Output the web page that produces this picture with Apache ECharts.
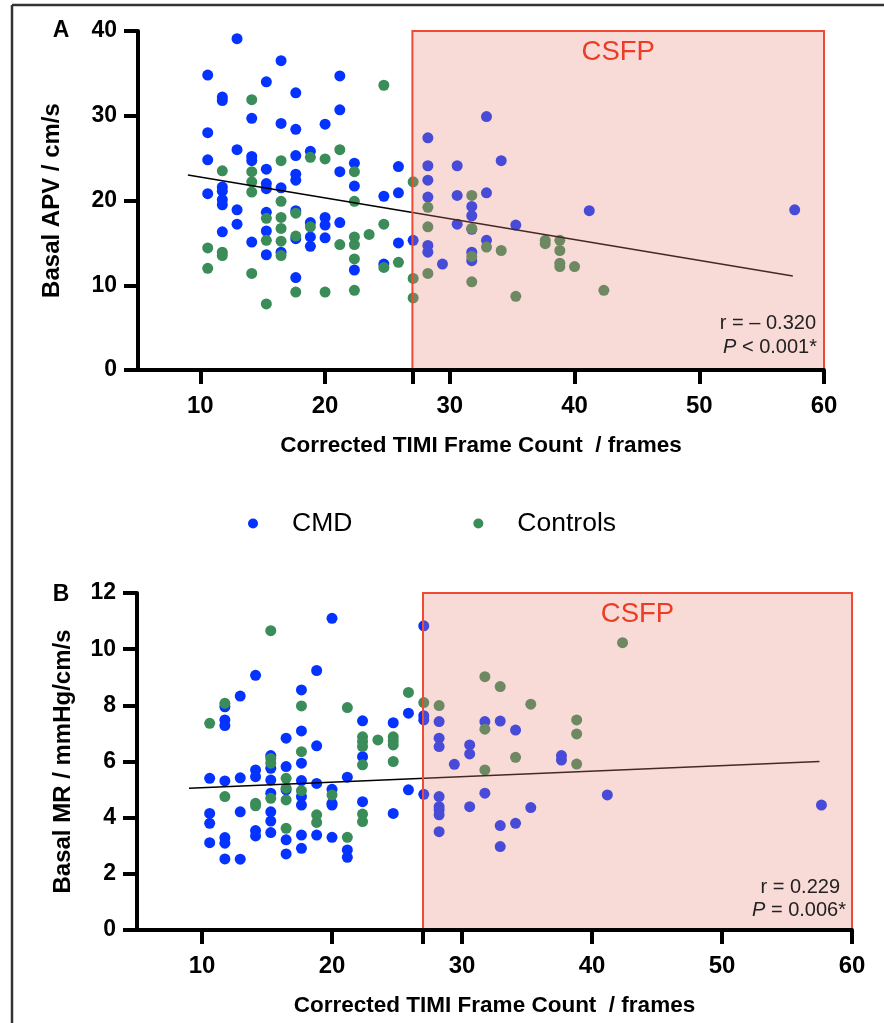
<!DOCTYPE html>
<html>
<head>
<meta charset="utf-8">
<script src="https://cdn.jsdelivr.net/npm/echarts@6/dist/echarts.min.js"></script>
<style>
  html, body { margin: 0; padding: 0; background: #fff; }
  #chart { width: 884px; height: 1023px; }
</style>
</head>
<body>
<div id="chart"></div>
<script>
// panel A: basal APV (cm/s) vs corrected TIMI frame count
var cmdA = [
  [10.59,34.8],[10.59,28.0],[10.59,24.8],[10.59,20.8],
  [11.76,32.2],[11.76,31.8],[11.76,21.6],[11.76,21.1],[11.76,20.1],[11.76,19.5],[11.76,16.3],
  [12.94,39.1],[12.94,26.0],[12.94,18.9],[12.94,17.2],
  [14.12,29.7],[14.12,25.2],[14.12,24.7],[14.12,15.1],
  [15.29,34.0],[15.29,23.7],[15.29,22.0],[15.29,21.4],[15.29,18.6],[15.29,16.4],[15.29,13.6],
  [16.47,36.5],[16.47,29.1],[16.47,21.5],[16.47,13.9],
  [17.65,32.7],[17.65,28.4],[17.65,25.3],[17.65,23.1],[17.65,22.4],[17.65,18.8],[17.65,15.5],[17.65,10.9],
  [18.82,25.8],[18.82,17.4],[18.82,15.7],[18.82,14.6],
  [20.0,29.0],[20.0,18.0],[20.0,17.1],[20.0,15.6],
  [21.18,34.7],[21.18,30.7],[21.18,23.4],[21.18,17.4],
  [22.35,24.4],[22.35,21.7],[22.35,11.8],
  [24.71,20.5],[24.71,12.5],
  [25.88,24.0],[25.88,20.9],[25.88,15.0],
  [27.06,15.3],
  [28.24,27.4],[28.24,24.1],[28.24,22.4],[28.24,20.4],[28.24,14.7],[28.24,13.9],
  [29.41,12.5],
  [30.59,24.1],[30.59,20.6],[30.59,17.2],
  [31.76,19.3],[31.76,18.2],[31.76,16.6],[31.76,13.9],[31.76,12.9],
  [32.94,29.9],[32.94,20.9],[32.94,15.3],
  [34.12,24.7],
  [35.29,17.1],
  [41.18,18.8],
  [57.65,18.9]
];
var ctrlA = [
  [10.59,14.4],[10.59,12.0],
  [11.76,23.5],[11.76,13.9],[11.76,13.5],
  [14.12,31.9],[14.12,23.4],[14.12,22.2],[14.12,21.0],[14.12,11.4],
  [15.29,17.9],[15.29,15.3],[15.29,7.8],
  [16.47,24.7],[16.47,19.9],[16.47,18.0],[16.47,16.7],[16.47,15.2],[16.47,13.5],
  [17.65,18.5],[17.65,15.8],[17.65,9.2],
  [18.82,25.1],[18.82,16.9],
  [20.0,24.9],[20.0,9.2],
  [21.18,26.0],[21.18,14.8],
  [22.35,23.4],[22.35,19.9],[22.35,15.7],[22.35,14.8],[22.35,13.1],[22.35,9.4],
  [23.53,16.0],
  [24.71,33.6],[24.71,17.2],[24.71,12.1],
  [25.88,12.7],
  [27.06,22.2],[27.06,10.8],[27.06,8.5],
  [28.24,19.2],[28.24,16.9],[28.24,11.4],
  [31.76,20.6],[31.76,16.7],[31.76,13.4],[31.76,10.4],
  [32.94,14.5],
  [34.12,14.1],
  [35.29,8.7],
  [37.65,15.3],[37.65,14.9],
  [38.82,15.3],[38.82,14.1],[38.82,12.6],[38.82,12.2],
  [40.0,12.2],
  [42.35,9.4]
];
var fitA = [[9, 23.0], [57.5, 11.1]]; // regression line ends

// panel B: basal MR (mmHg/cm/s) vs corrected TIMI frame count
var cmdB = [
  [10.59,5.40],[10.59,4.15],[10.59,3.80],[10.59,3.11],
  [11.76,7.95],[11.76,7.48],[11.76,7.28],[11.76,5.31],[11.76,3.29],[11.76,3.09],[11.76,2.53],
  [12.94,8.33],[12.94,5.42],[12.94,4.21],[12.94,2.52],
  [14.12,9.07],[14.12,5.70],[14.12,5.46],[14.12,3.54],[14.12,3.35],
  [15.29,6.21],[15.29,5.76],[15.29,5.34],[15.29,4.87],[15.29,4.21],[15.29,3.88],[15.29,3.47],
  [16.47,6.83],[16.47,5.82],[16.47,4.99],[16.47,3.21],[16.47,2.71],
  [17.65,8.55],[17.65,7.09],[17.65,5.94],[17.65,5.32],[17.65,4.75],[17.65,4.45],[17.65,3.38],[17.65,2.91],
  [18.82,9.24],[18.82,6.56],[18.82,5.22],[18.82,3.38],
  [20.0,11.10],[20.0,5.01],[20.0,4.51],[20.0,4.45],[20.0,3.30],
  [21.18,5.44],[21.18,2.85],[21.18,2.59],
  [22.35,7.45],[22.35,6.17],[22.35,4.57],
  [24.71,7.38],[24.71,4.15],
  [25.88,7.72],[25.88,4.99],
  [27.06,10.83],[27.06,7.63],[27.06,7.48],[27.06,4.83],
  [28.24,7.42],[28.24,6.83],[28.24,6.53],[28.24,4.75],[28.24,4.39],[28.24,4.27],[28.24,4.10],[28.24,3.50],
  [29.41,5.90],
  [30.59,6.59],[30.59,6.27],[30.59,4.39],
  [31.76,7.42],[31.76,4.87],
  [32.94,7.44],[32.94,3.72],[32.94,2.97],
  [34.12,7.12],[34.12,3.80],
  [35.29,4.36],
  [37.65,6.21],[37.65,6.05],
  [41.18,4.81],
  [57.65,4.45]
];
var ctrlB = [
  [10.59,7.36],
  [11.76,8.07],[11.76,4.75],
  [14.12,4.51],[14.12,4.42],
  [15.29,10.66],[15.29,6.11],[15.29,5.94],[15.29,4.69],
  [16.47,5.40],[16.47,5.05],[16.47,4.63],[16.47,3.62],
  [17.65,7.98],[17.65,6.35],[17.65,4.96],
  [18.82,4.10],[18.82,3.83],
  [20.0,4.81],
  [21.18,7.92],[21.18,3.30],
  [22.35,6.88],[22.35,6.71],[22.35,6.53],[22.35,5.88],[22.35,4.13],[22.35,3.86],
  [23.53,6.77],
  [24.71,6.88],[24.71,6.74],[24.71,6.59],[24.71,6.00],
  [25.88,8.46],
  [27.06,8.10],
  [28.24,7.99],
  [31.76,9.02],[31.76,7.15],[31.76,5.70],
  [32.94,8.67],
  [34.12,6.15],
  [35.29,8.04],
  [38.82,7.48],[38.82,6.98],[38.82,5.91],
  [42.35,10.23]
];
var fitB = [[9, 5.05], [57.5, 6.0]];

// axis ticks
var xLabels = [10, 20, 30, 40, 50, 60];
var xTicks = [10, 20, 27, 30, 40, 50, 60];
var csfpCut = 27; // CSFP threshold, frames

var FONT = '"Liberation Sans", Arial, Helvetica, sans-serif';
var BLUE = '#0433ff';
var GREEN = '#3a8c58';

function xAxisOf(idx) {
  return {
    gridIndex: idx, type: 'value', min: 5, max: 60, z: 20,
    name: 'Corrected TIMI Frame Count  / frames',
    nameLocation: 'middle', nameGap: 64,
    nameTextStyle: { fontFamily: FONT, fontWeight: 'bold', fontSize: 22.5, color: '#000' },
    axisLine: { lineStyle: { color: '#000', width: 4 } },
    axisTick: { show: true, inside: false, length: 14, customValues: xTicks, lineStyle: { color: '#000', width: 4 } },
    axisLabel: { customValues: xLabels, margin: 24, fontFamily: FONT, fontWeight: 'bold', fontSize: 24, color: '#000' },
    splitLine: { show: false }
  };
}
function yAxisOf(idx, max, step, title, gap) {
  return {
    gridIndex: idx, type: 'value', min: 0, max: max, interval: step, z: 20,
    name: title, nameLocation: 'middle', nameRotate: 90, nameGap: gap,
    nameTextStyle: { fontFamily: FONT, fontWeight: 'bold', fontSize: 24, color: '#000' },
    axisLine: { show: true, lineStyle: { color: '#000', width: 4 } },
    axisTick: { show: true, length: 14, lineStyle: { color: '#000', width: 4 } },
    axisLabel: { margin: 21, fontFamily: FONT, fontWeight: 'bold', fontSize: 23, color: '#000' },
    splitLine: { show: false }
  };
}
function dots(name, idx, data, color) {
  return {
    name: name, type: 'scatter', xAxisIndex: idx, yAxisIndex: idx,
    data: data, symbol: 'circle', symbolSize: 11,
    itemStyle: { color: color, opacity: 1 }, z: 2
  };
}
// regression line + CSFP shaded box (drawn above the dots, like the figure)
function fitLine(idx, data, top) {
  return {
    type: 'line', xAxisIndex: idx, yAxisIndex: idx, data: data,
    symbol: 'none', lineStyle: { color: '#000', width: 1.5 }, z: 3,
    markArea: {
      silent: true, z: 10,
      itemStyle: { color: 'rgba(232,132,122,0.3)', borderColor: '#ef4a36', borderWidth: 2 },
      label: { show: true, position: 'insideTop', distance: 8, formatter: 'CSFP',
               fontFamily: FONT, fontSize: 27.5, color: '#ee3b24' },
      data: [[{ xAxis: csfpCut, yAxis: 0 }, { xAxis: 60, yAxis: top }]]
    }
  };
}
function note(x, y, s) {
  return {
    type: 'text', x: x, y: y, z: 50,
    style: {
      text: s, align: 'right', verticalAlign: 'middle',
      font: '20px ' + FONT, fill: '#222',
      rich: { i: { fontStyle: 'italic', fontSize: 20, fontFamily: FONT, fill: '#222' } }
    }
  };
}

var myChart = echarts.init(document.getElementById('chart'), null, { renderer: 'canvas' });
var option = {
  animation: false,
  backgroundColor: '#fff',
  grid: [
    { left: 138, top: 31, width: 686, height: 339 },
    { left: 137, top: 593, width: 715, height: 337 }
  ],
  legend: {
    data: ['CMD', 'Controls'], icon: 'circle',
    left: 243, top: 505, itemWidth: 68, itemHeight: 10, itemGap: 121,
    textStyle: { fontFamily: FONT, fontSize: 26.5, color: '#000' }
  },
  xAxis: [xAxisOf(0), xAxisOf(1)],
  yAxis: [
    yAxisOf(0, 40, 10, 'Basal APV / cm/s', 74),
    yAxisOf(1, 12, 2, 'Basal MR / mmHg/cm/s', 62)
  ],
  series: [
    dots('CMD', 0, cmdA, BLUE),
    dots('Controls', 0, ctrlA, GREEN),
    fitLine(0, fitA, 40),
    dots('CMD', 1, cmdB, BLUE),
    dots('Controls', 1, ctrlB, GREEN),
    fitLine(1, fitB, 12)
  ],
  graphic: [
    // figure frame (top and left)
    { type: 'line', shape: { x1: 12, y1: 5, x2: 884, y2: 5 }, style: { stroke: '#333', lineWidth: 2.5 } },
    { type: 'line', shape: { x1: 12, y1: 5, x2: 12, y2: 1023 }, style: { stroke: '#333', lineWidth: 2.5 } },
    { type: 'text', x: 61, y: 31, style: { text: 'A', align: 'center', verticalAlign: 'middle', font: 'bold 23px ' + FONT, fill: '#000' } },
    { type: 'text', x: 61, y: 595, style: { text: 'B', align: 'center', verticalAlign: 'middle', font: 'bold 23px ' + FONT, fill: '#000' } },
    note(816, 323, 'r = \u2013 0.320'),
    note(817, 347, '{i|P} < 0.001*'),
    note(840, 887, 'r = 0.229'),
    note(846, 910, '{i|P} = 0.006*')
  ]
};
myChart.setOption(option);
</script>
</body>
</html>
